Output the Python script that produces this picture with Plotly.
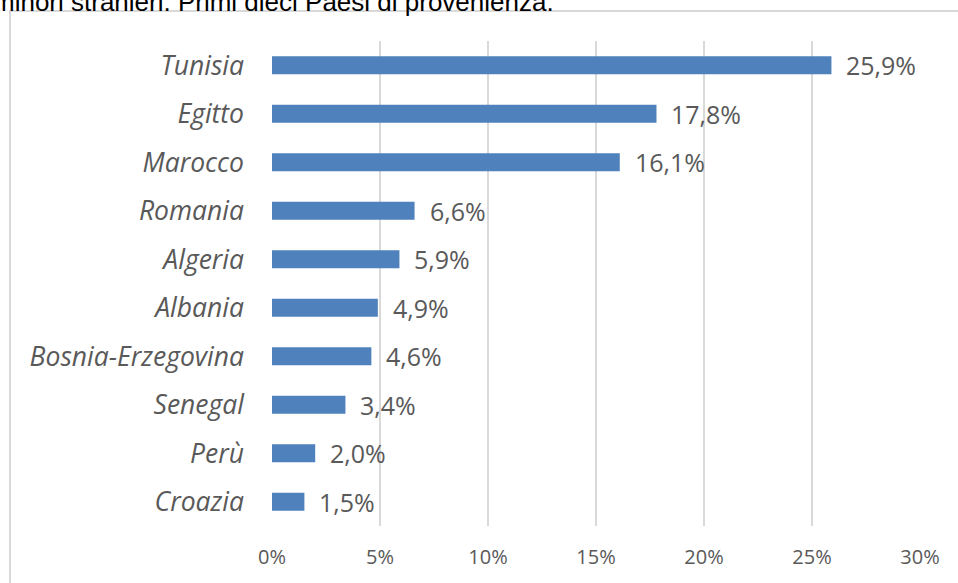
import plotly.graph_objects as go

# Top ten countries of origin (share of foreign minors, %)
countries = ["Tunisia", "Egitto", "Marocco", "Romania", "Algeria", "Albania",
             "Bosnia-Erzegovina", "Senegal", "Perù", "Croazia"]
shares = [25.9, 17.8, 16.1, 6.6, 5.9, 4.9, 4.6, 3.4, 2.0, 1.5]
x_ticks = [0, 5, 10, 15, 20, 25, 30]
x_tick_labels = ["0%", "5%", "10%", "15%", "20%", "25%", "30%"]
heading = "minori stranieri. Primi dieci Paesi di provenienza."

W, H = 958, 583
L, R, T, B = 272, 38, 41, 57
plot_w, plot_h = W - L - R, H - T - B


def px_x(p):
    return (p - L) / plot_w


def px_y(p):
    return (H - B - p) / plot_h


def fmt(v):
    return f"{v:.1f}".replace(".", ",") + "%"


fig = go.Figure(go.Bar(
    x=shares, y=countries, orientation="h",
    marker=dict(color="#4F81BD", line=dict(width=0)),
    hoverinfo="skip",
))

annotations = [
    dict(x=v, y=c, xref="x", yref="y", text=fmt(v), showarrow=False,
         xanchor="left", yanchor="middle", xshift=13,
         font=dict(family="Open Sans", size=25, color="#595959"))
    for c, v in zip(countries, shares)
]
annotations.append(dict(
    x=px_x(556), y=px_y(2), xref="paper", yref="paper", text=heading,
    showarrow=False, xanchor="right", yanchor="middle",
    font=dict(family="Liberation Sans, Arial", size=26, color="#000000"),
))

shapes = [
    dict(type="line", xref="paper", yref="paper",
         x0=px_x(10), x1=px_x(10), y0=px_y(11), y1=px_y(H + 20),
         line=dict(color="#d9d9d9", width=2)),
    dict(type="line", xref="paper", yref="paper",
         x0=px_x(9), x1=px_x(W + 20), y0=px_y(11), y1=px_y(11),
         line=dict(color="#d9d9d9", width=2)),
]

fig.update_layout(
    width=W, height=H,
    margin=dict(l=L, r=R, t=T, b=B, pad=0),
    paper_bgcolor="white", plot_bgcolor="white",
    bargap=0.63,
    showlegend=False,
    annotations=annotations,
    shapes=shapes,
    xaxis=dict(
        range=[0, 30], tickvals=x_ticks, ticktext=x_tick_labels,
        showgrid=True, gridcolor="#d9d9d9", gridwidth=2,
        zeroline=False, showline=False, ticks="",
        ticklabelstandoff=17,
        tickfont=dict(family="Open Sans", size=20, color="#595959"),
        fixedrange=True,
    ),
    yaxis=dict(
        categoryorder="array", categoryarray=countries[::-1],
        showgrid=False, zeroline=False, showline=False, ticks="",
        ticklabelstandoff=27,
        tickfont=dict(family="Open Sans", size=26.5, color="#595959", style="italic"),
        fixedrange=True,
    ),
)

fig.write_html("out.html", config={"displayModeBar": False})
